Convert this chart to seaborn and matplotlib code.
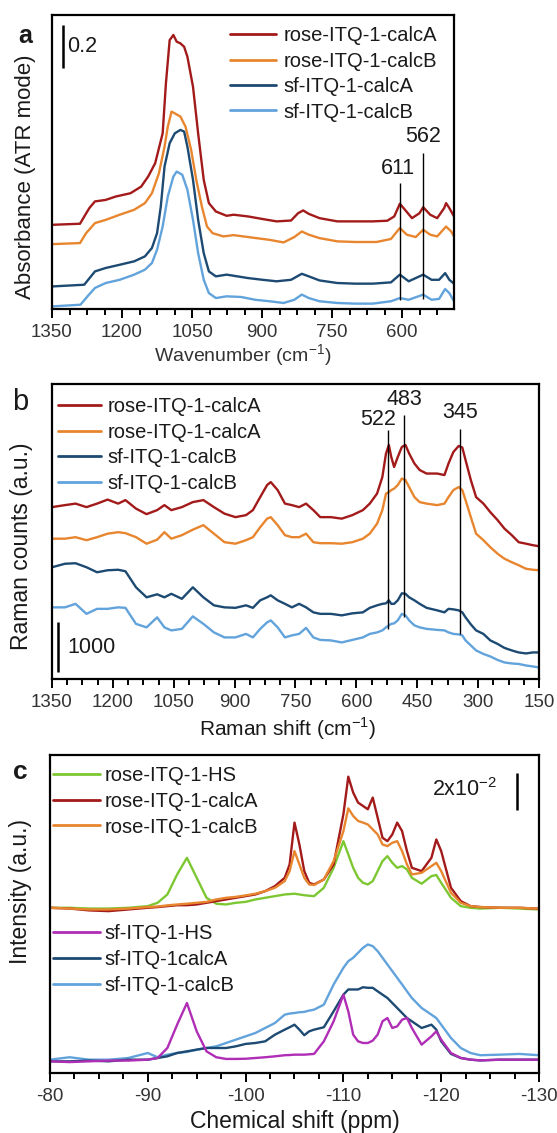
import matplotlib
matplotlib.use('Agg')
import matplotlib.pyplot as plt
import seaborn as sns
from matplotlib.ticker import MultipleLocator
from matplotlib.lines import Line2D

# ---------------- Panel a : ATR-IR absorbance ----------------
a_rose_calcA_x = [1350, 1290, 1280, 1270, 1258, 1235, 1213, 1182, 1159, 1144, 1129, 1113, 1106, 1098, 1090, 1083, 1075, 1067, 1060, 1048,
                  1037, 1025, 1014, 999, 976, 961, 930, 899, 869, 838, 823, 812, 800, 777, 739, 701, 663, 632, 617, 605,
                  594, 579, 563, 555, 540, 525, 510, 506, 499, 489]
a_rose_calcA_y = [0.392, 0.397, 0.434, 0.470, 0.501, 0.508, 0.524, 0.539, 0.570, 0.617, 0.679, 0.818, 1.051, 1.252, 1.276, 1.245, 1.237, 1.221, 1.175, 1.035,
                  0.818, 0.601, 0.493, 0.454, 0.434, 0.439, 0.431, 0.419, 0.408, 0.412, 0.446, 0.459, 0.443, 0.423, 0.408, 0.408, 0.408, 0.411, 0.431, 0.490,
                  0.462, 0.423, 0.446, 0.474, 0.439, 0.423, 0.470, 0.493, 0.470, 0.431]
a_rose_calcB_x = [1350, 1290, 1277, 1258, 1235, 1205, 1174, 1151, 1136, 1121, 1109, 1102, 1094, 1087, 1075, 1064, 1052, 1041, 1029, 1018,
                  1006, 983, 961, 930, 884, 854, 831, 815, 800, 777, 739, 701, 655, 624, 605, 590, 571, 555, 540, 525,
                  506, 495, 489]
a_rose_calcB_y = [0.302, 0.307, 0.353, 0.400, 0.415, 0.439, 0.462, 0.493, 0.539, 0.632, 0.756, 0.849, 0.919, 0.911, 0.896, 0.849, 0.741, 0.601, 0.477, 0.384,
                  0.353, 0.338, 0.344, 0.335, 0.322, 0.310, 0.335, 0.361, 0.346, 0.330, 0.315, 0.312, 0.312, 0.326, 0.377, 0.346, 0.335, 0.369, 0.346, 0.338,
                  0.384, 0.361, 0.338]
a_sf_calcA_x = [1350, 1281, 1258, 1235, 1205, 1174, 1151, 1136, 1125, 1117, 1109, 1098, 1087, 1075, 1067, 1060, 1048, 1037, 1025, 1014,
                999, 976, 953, 930, 899, 869, 838, 815, 800, 777, 739, 701, 663, 624, 605, 586, 555, 537, 521, 508,
                499, 489]
a_sf_calcA_y = [0.105, 0.113, 0.175, 0.191, 0.206, 0.222, 0.245, 0.284, 0.353, 0.477, 0.663, 0.772, 0.818, 0.834, 0.826, 0.756, 0.601, 0.415, 0.260, 0.175,
                0.152, 0.160, 0.152, 0.144, 0.136, 0.129, 0.136, 0.164, 0.152, 0.133, 0.121, 0.118, 0.118, 0.124, 0.160, 0.129, 0.160, 0.136, 0.136, 0.167,
                0.136, 0.118]
a_sf_calcB_x = [1350, 1289, 1274, 1258, 1235, 1205, 1174, 1151, 1136, 1125, 1113, 1102, 1090, 1083, 1071, 1060, 1048, 1037, 1025, 1014,
                999, 976, 945, 915, 884, 854, 831, 815, 800, 777, 739, 701, 663, 624, 605, 586, 555, 537, 521, 508,
                499, 489]
a_sf_calcB_y = [0.012, 0.020, 0.059, 0.098, 0.121, 0.136, 0.160, 0.183, 0.214, 0.276, 0.384, 0.524, 0.617, 0.640, 0.625, 0.555, 0.415, 0.260, 0.136, 0.074,
                0.051, 0.059, 0.056, 0.043, 0.036, 0.028, 0.043, 0.067, 0.051, 0.036, 0.028, 0.025, 0.025, 0.036, 0.051, 0.043, 0.067, 0.043, 0.047, 0.093,
                0.074, 0.036]
a_labels = ['rose-ITQ-1-calcA', 'rose-ITQ-1-calcB', 'sf-ITQ-1-calcA', 'sf-ITQ-1-calcB']
a_peaks = [605, 555]
a_peak_labels = ['611', '562']

# ---------------- Panel b : Raman ----------------
b_shift = [1350, 1318, 1292, 1265, 1239, 1213, 1187, 1169, 1143, 1117, 1091, 1073, 1056, 1030, 1003, 977, 951, 925, 898, 872,
           855, 837, 820, 811, 794, 776, 759, 741, 724, 706, 689, 663, 636, 610, 584, 567, 549, 536, 527, 520,
           514, 507, 498, 488, 479, 470, 457, 444, 427, 401, 383, 373, 361, 348, 339, 331, 318, 305, 287, 270,
           252, 235, 217, 200, 182, 165, 150]
b_rose_calcA = [3430, 3470, 3500, 3430, 3500, 3580, 3500, 3570, 3400, 3290, 3370, 3470, 3370, 3430, 3530, 3570, 3430, 3300, 3230, 3270,
                3370, 3630, 3870, 3930, 3770, 3500, 3470, 3430, 3500, 3370, 3230, 3230, 3200, 3270, 3370, 3500, 3700, 4030, 4500, 4670,
                4430, 4230, 4430, 4630, 4670, 4500, 4300, 4170, 4100, 4100, 4070, 4300, 4530, 4650, 4620, 4370, 3970, 3630, 3500, 3330,
                3170, 3000, 2870, 2730, 2700, 2670, 2650]
b_rose_calcB = [2800, 2800, 2830, 2770, 2830, 2900, 2930, 2910, 2830, 2700, 2780, 2930, 2800, 2870, 2980, 3070, 2900, 2730, 2700, 2770,
                2830, 3030, 3200, 3230, 3070, 2870, 2830, 2830, 2900, 2730, 2710, 2710, 2700, 2730, 2800, 2900, 3100, 3370, 3700, 3730,
                3770, 3800, 3870, 4000, 3970, 3830, 3630, 3530, 3500, 3470, 3500, 3630, 3770, 3830, 3770, 3570, 3230, 2900, 2770, 2630,
                2500, 2400, 2330, 2270, 2200, 2180, 2170]
b_sf_calcA = [2230, 2300, 2310, 2230, 2130, 2170, 2180, 2150, 1830, 1630, 1690, 1630, 1700, 1600, 1830, 1630, 1470, 1430, 1420, 1470,
              1420, 1570, 1630, 1670, 1570, 1500, 1430, 1500, 1430, 1330, 1300, 1300, 1270, 1310, 1330, 1420, 1470, 1500, 1510, 1570,
              1500, 1500, 1570, 1710, 1700, 1630, 1570, 1500, 1420, 1370, 1330, 1400, 1390, 1370, 1330, 1230, 1090, 970, 900, 770,
              700, 620, 570, 530, 510, 530, 530]
b_sf_calcB = [1430, 1430, 1500, 1300, 1400, 1400, 1430, 1420, 1100, 1030, 1230, 1030, 970, 1000, 1250, 1100, 930, 830, 830, 900,
              830, 1000, 1130, 1170, 1030, 830, 870, 900, 1020, 830, 780, 770, 730, 780, 830, 900, 930, 970, 1030, 1070,
              1100, 1110, 1170, 1300, 1270, 1170, 1070, 1030, 1000, 980, 970, 930, 900, 890, 870, 770, 670, 570, 500, 450,
              380, 330, 310, 300, 270, 250, 230]
b_labels = ['rose-ITQ-1-calcA', 'rose-ITQ-1-calcA', 'sf-ITQ-1-calcB', 'sf-ITQ-1-calcB']
b_peaks = [522, 483, 345]
b_peak_labels = ['522', '483', '345']

# ---------------- Panel c : 29Si NMR ----------------
c_ppm = [-80, -82, -84, -86, -88, -90, -91, -92, -93, -94, -95, -96, -97, -98, -99, -100, -101, -102, -103, -104,
         -104.5, -105, -105.5, -106, -106.5, -107, -108, -109, -110, -110.5, -111, -111.5, -112, -112.5, -113, -113.5, -114, -114.5, -115, -115.5,
         -116, -116.5, -117, -118, -119, -119.5, -120, -121, -122, -123, -124, -126, -128, -130]
c_rose_HS = [8.92, 8.92, 8.88, 8.88, 8.92, 9.01, 9.19, 9.64, 10.72, 11.62, 10.54, 9.46, 9.14, 9.10, 9.19, 9.24, 9.37, 9.46, 9.55, 9.64,
             9.66, 9.68, 9.64, 9.60, 9.57, 9.55, 10.00, 11.08, 12.52, 11.80, 11.08, 10.54, 10.27, 10.18, 10.36, 10.90, 11.44, 11.71, 11.35, 11.08,
             11.17, 10.99, 10.54, 10.22, 10.63, 10.69, 10.27, 9.46, 9.01, 8.92, 8.88, 8.92, 8.88, 8.83]
c_rose_calcA = [8.92, 8.88, 8.78, 8.74, 8.83, 8.92, 8.96, 9.01, 9.06, 9.06, 9.10, 9.19, 9.28, 9.37, 9.46, 9.55, 9.64, 9.82, 10.09, 10.54,
                11.26, 13.52, 12.34, 10.90, 10.27, 10.18, 10.45, 11.26, 13.97, 16.00, 15.14, 14.60, 14.42, 14.24, 14.87, 13.79, 12.70, 12.52, 12.88, 13.52,
                13.06, 11.98, 11.08, 10.90, 11.62, 12.61, 11.98, 10.00, 9.28, 9.01, 8.96, 8.92, 8.92, 8.87]
c_rose_calcB = [8.92, 8.88, 8.83, 8.83, 8.88, 8.96, 8.99, 9.05, 9.10, 9.14, 9.19, 9.24, 9.37, 9.46, 9.51, 9.59, 9.68, 9.82, 10.00, 10.36,
                10.90, 11.98, 11.26, 10.54, 10.18, 10.15, 10.45, 11.44, 13.06, 14.29, 13.88, 13.61, 13.52, 13.42, 13.15, 12.88, 12.34, 12.25, 12.43, 12.52,
                11.98, 11.26, 10.72, 10.81, 11.17, 11.35, 10.90, 9.73, 9.19, 9.01, 8.96, 8.92, 8.92, 8.87]
c_sf_HS = [0.63, 0.59, 0.63, 0.67, 0.67, 0.72, 0.81, 1.35, 2.61, 3.78, 2.25, 1.17, 0.85, 0.76, 0.76, 0.77, 0.81, 0.85, 0.90, 0.96,
           0.97, 0.99, 0.99, 0.99, 1.01, 1.03, 1.71, 2.79, 4.23, 3.33, 2.07, 1.71, 1.62, 1.62, 1.75, 2.07, 2.79, 2.97, 2.43, 2.52,
           2.88, 2.97, 2.43, 1.53, 1.98, 2.25, 1.80, 1.08, 0.81, 0.72, 0.68, 0.72, 0.72, 0.72]
c_sf_calcA = [0.63, 0.63, 0.67, 0.63, 0.72, 0.72, 0.81, 0.90, 1.08, 1.17, 1.26, 1.35, 1.35, 1.35, 1.44, 1.57, 1.62, 1.71, 2.07, 2.34,
              2.47, 2.61, 2.34, 2.04, 2.25, 2.34, 2.47, 3.33, 4.23, 4.51, 4.51, 4.51, 4.63, 4.60, 4.60, 4.41, 4.23, 4.05, 3.78, 3.51,
              3.24, 2.97, 2.79, 2.43, 2.61, 2.34, 1.71, 1.03, 0.81, 0.72, 0.68, 0.72, 0.72, 0.72]
c_sf_calcB = [0.72, 0.85, 0.72, 0.72, 0.81, 1.08, 0.85, 0.99, 1.08, 1.14, 1.26, 1.35, 1.44, 1.62, 1.80, 1.98, 2.16, 2.43, 2.70, 3.15,
              3.21, 3.24, 3.28, 3.30, 3.37, 3.42, 3.69, 4.78, 5.68, 6.04, 6.22, 6.49, 6.76, 6.94, 6.85, 6.58, 6.22, 5.86, 5.50, 5.14,
              4.78, 4.41, 4.05, 3.51, 3.15, 2.97, 2.61, 1.89, 1.35, 1.08, 0.96, 0.99, 1.03, 0.96]
c_labels_top = ['rose-ITQ-1-HS', 'rose-ITQ-1-calcA', 'rose-ITQ-1-calcB']
c_labels_bottom = ['sf-ITQ-1-HS', 'sf-ITQ-1calcA', 'sf-ITQ-1-calcB']

# ---------------- colours ----------------
DARKRED = '#a31a1a'
ORANGE = '#e8862f'
DARKBLUE = '#1d4a72'
LIGHTBLUE = '#62a3dc'
GREEN = '#7dc832'
MAGENTA = '#b02db6'
TXT = '#1a1a1a'

sns.set_theme(style='white')
plt.rcParams['font.family'] = ['Liberation Sans', 'DejaVu Sans']
plt.rcParams['mathtext.fontset'] = 'custom'
plt.rcParams['mathtext.rm'] = 'Liberation Sans'
plt.rcParams['axes.unicode_minus'] = False

W, H = 557, 1133
fig = plt.figure(figsize=(W / 100, H / 100), dpi=100)
fig.patch.set_facecolor('white')
axA = fig.add_axes([52 / W, 1 - 309 / H, 402 / W, 294 / H])
axB = fig.add_axes([52 / W, 1 - 679 / H, 487 / W, 295 / H])
axC = fig.add_axes([50 / W, 1 - 1073 / H, 489 / W, 318 / H])

LW = 1.7


def style(ax, major, minor):
    for s in ax.spines.values():
        s.set_visible(True)
        s.set_linewidth(1.6)
        s.set_color('black')
    ax.set_yticks([])
    ax.xaxis.set_major_locator(MultipleLocator(major))
    ax.xaxis.set_minor_locator(MultipleLocator(minor))
    ax.tick_params(axis='x', which='major', bottom=True, direction='out', length=6.5, width=1.4,
                   color='black', labelsize=13.5, labelcolor='#333333', pad=4)
    ax.tick_params(axis='x', which='minor', bottom=True, direction='out', length=4, width=1.4, color='black')
    ax.grid(False)


def legend(ax, labels, colors, anchor, hl, htp, ls):
    handles = [Line2D([], [], color=c, lw=2.0) for c in colors]
    leg = ax.legend(handles, labels, loc='upper left', bbox_to_anchor=anchor, frameon=False,
                    fontsize=14.5, handlelength=hl, handletextpad=htp, labelspacing=ls,
                    borderpad=0, borderaxespad=0)
    for t in leg.get_texts():
        t.set_color(TXT)
    return leg


# ---- panel a ----
for xs, ys, col in [(a_rose_calcA_x, a_rose_calcA_y, DARKRED), (a_rose_calcB_x, a_rose_calcB_y, ORANGE),
                    (a_sf_calcA_x, a_sf_calcA_y, DARKBLUE), (a_sf_calcB_x, a_sf_calcB_y, LIGHTBLUE)]:
    sns.lineplot(x=xs, y=ys, ax=axA, color=col, linewidth=LW, legend=False)
axA.set_xlim(1350, 489)
axA.set_ylim(0, 1.369)
style(axA, 150, 37.5)
axA.vlines(a_peaks[0], 0.043, 0.586, color='black', lw=1.0)
axA.vlines(a_peaks[1], 0.047, 0.725, color='black', lw=1.0)
axA.text(609, 0.656, a_peak_labels[0], ha='center', va='center', fontsize=15.5, color=TXT)
axA.text(556, 0.803, a_peak_labels[1], ha='center', va='center', fontsize=15.5, color=TXT)
axA.vlines(1327, 1.121, 1.321, color='black', lw=1.8)
axA.text(1318, 1.221, '0.2', ha='left', va='center', fontsize=15.5, color=TXT)
legend(axA, a_labels, [DARKRED, ORANGE, DARKBLUE, LIGHTBLUE], (0.443, 0.962), 2.3, 0.36, 0.32)
axA.set_ylabel('Absorbance (ATR mode)', fontsize=16, color=TXT)
axA.yaxis.set_label_coords(-0.04, 0.45)
axA.set_xlabel('Wavenumber (cm$^{\\mathregular{-1}}$)', fontsize=14, color='#333333')
axA.xaxis.set_label_coords(0.475, -0.115)

# ---- panel b ----
for ys, col in [(b_rose_calcA, DARKRED), (b_rose_calcB, ORANGE), (b_sf_calcA, DARKBLUE), (b_sf_calcB, LIGHTBLUE)]:
    sns.lineplot(x=b_shift, y=ys, ax=axB, color=col, linewidth=LW, legend=False)
axB.set_xlim(1350, 150)
axB.set_ylim(0, 5887)
style(axB, 150, 37.5)
for p, y0, y1 in zip(b_peaks, [1000, 1230, 900], [4970, 5270, 4980]):
    axB.vlines(p, y0, y1, color='black', lw=1.0)
for p, yt, lab in zip([547, 481, 344], [5170, 5570, 5310], b_peak_labels):
    axB.text(p, yt, lab, ha='center', va='center', fontsize=15.5, color=TXT)
axB.vlines(1334, 140, 1140, color='black', lw=1.8)
axB.text(1313, 633, '1000', ha='left', va='center', fontsize=15.5, color=TXT)
legend(axB, b_labels, [DARKRED, ORANGE, DARKBLUE, LIGHTBLUE], (0.012, 0.956), 2.15, 0.3, 0.33)
axB.set_ylabel('Raman counts (a.u.)', fontsize=16.5, color=TXT)
axB.yaxis.set_label_coords(-0.039, 0.45)
axB.set_xlabel('Raman shift (cm$^{\\mathregular{-1}}$)', fontsize=15, color=TXT)
axB.xaxis.set_label_coords(0.483, -0.125)

# ---- panel c ----
for ys, col in [(c_rose_HS, GREEN), (c_rose_calcA, DARKRED), (c_rose_calcB, ORANGE),
                (c_sf_calcB, LIGHTBLUE), (c_sf_calcA, DARKBLUE), (c_sf_HS, MAGENTA)]:
    sns.lineplot(x=c_ppm, y=ys, ax=axC, color=col, linewidth=LW, legend=False)
axC.set_xlim(-80, -130)
axC.set_ylim(0, 17.17)
style(axC, 10, 2.5)
axC.vlines(-127.75, 14.22, 16.22, color='black', lw=1.8)
axC.text(-125.7, 15.3, '2x10$^{\\mathregular{-2}}$', ha='right', va='center', fontsize=15.5, color=TXT)
legC1 = legend(axC, c_labels_top, [GREEN, DARKRED, ORANGE], (0.006, 0.966), 2.35, 0.2, 0.34)
axC.add_artist(legC1)
legend(axC, c_labels_bottom, [MAGENTA, DARKBLUE, LIGHTBLUE], (0.006, 0.469), 2.35, 0.2, 0.34)
axC.set_ylabel('Intensity (a.u.)', fontsize=16.5, color=TXT)
axC.yaxis.set_label_coords(-0.037, 0.57)
axC.set_xlabel('Chemical shift (ppm)', fontsize=16.5, color=TXT)
axC.xaxis.set_label_coords(0.5, -0.115)

# panel letters
fig.text(25 / W, 1 - 36 / H, 'a', fontsize=18, fontweight='bold', ha='center', va='center', color=TXT)
fig.text(20 / W, 1 - 402 / H, 'b', fontsize=21, ha='center', va='center', color=TXT)
fig.text(20 / W, 1 - 772 / H, 'c', fontsize=19, fontweight='bold', ha='center', va='center', color=TXT)

fig.savefig('out.png', dpi=100, facecolor='white')
